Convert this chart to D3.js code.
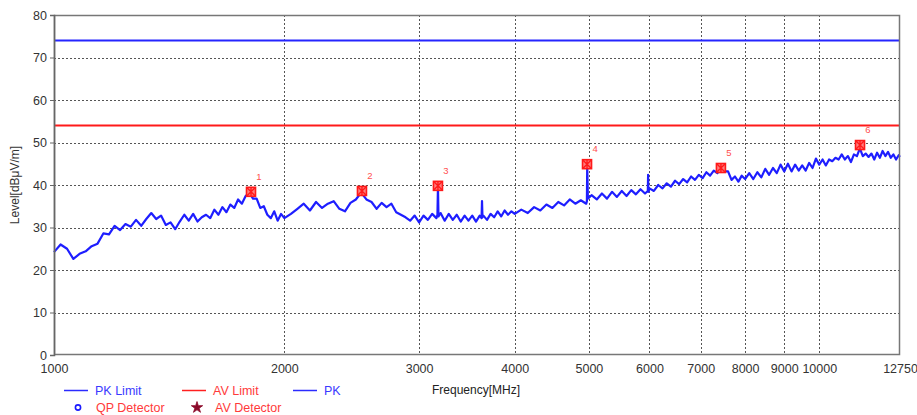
<!DOCTYPE html>
<html><head><meta charset="utf-8">
<script src="https://cdn.jsdelivr.net/npm/d3@7"></script>
<style>
html,body{margin:0;padding:0;background:#fff;}
svg{display:block;font-family:"Liberation Sans",Arial,sans-serif;}
</style></head>
<body>
<svg id="chart" width="917" height="415"></svg>
<script>
// ---- data ----
const xTickValues = [1000, 2000, 3000, 4000, 5000, 6000, 7000, 8000, 9000, 10000, 12750];
const yTickValues = [0, 10, 20, 30, 40, 50, 60, 70, 80];
const pkLimit = 74;
const avLimit = 54;
const pkFreq = [
 1000,1020,1040,1060,1080,1100,1120,1140,1160,1180,1200,1220,1240,1260,1280,1300,1320,1340,1360,1380,
 1400,1420,1440,1460,1480,1500,1520,1540,1560,1580,1600,1620,1640,1660,1680,1700,1720,1740,1760,1780,
 1800,1820,1840,1860,1880,1900,1920,1940,1960,1980,2000,
 2040,2080,2120,2160,2200,2240,2280,2320,2360,2400,2440,2480,2520,2560,2600,2640,2680,2720,2760,2800,
 2840,2880,2920,2960,3000,3040,3080,3120,3160,3170,3175,3180,3200,3240,3280,3320,3360,3400,3440,3480,
 3520,3560,3600,3620,3625,3630,3640,3680,3720,3760,3800,3840,3880,3920,3960,4000,
 4080,4160,4240,4320,4400,4480,4560,4640,4720,4800,4880,4960,4970,4975,4985,5040,5120,5200,5280,5360,
 5440,5520,5600,5680,5760,5840,5920,5970,5975,5980,6000,6080,6160,6240,6320,6400,6480,6560,6640,6720,
 6800,6880,6960,7040,7120,7200,7280,7360,7440,7520,7600,7680,7760,7840,7920,8000,
 8100,8200,8300,8400,8500,8600,8700,8800,8900,9000,9100,9200,9300,9400,9500,9600,9700,9800,9900,10000,
 10100,10200,10300,10400,10500,10600,10700,10800,10900,11000,11100,11200,11300,11400,11500,11600,11700,11800,11900,12000,
 12100,12200,12300,12400,12500,12600,12700,12750
];
const pkLevel = [
 24.2,26.0,25.0,22.6,23.8,24.4,25.6,26.2,28.6,28.4,30.4,29.4,30.8,30.2,31.8,30.4,32.0,33.4,32.0,32.8,
 30.6,31.2,29.6,31.4,33.0,31.6,33.2,31.4,32.4,33.0,32.2,34.2,33.0,34.8,33.6,35.4,34.6,36.6,35.6,37.4,
 38.2,36.8,36.8,34.6,35.0,33.0,32.2,33.8,31.6,33.2,32.2,
 33.2,34.4,35.6,34.0,36.0,34.6,35.6,36.2,34.4,33.8,35.8,36.6,38.2,36.6,36.0,34.4,35.8,34.8,35.6,33.6,
 33.0,32.4,31.6,32.8,31.2,32.8,31.8,33.2,32.2,33.0,39.6,32.6,33.4,31.6,33.2,31.8,33.0,31.4,32.8,31.6,
 32.8,31.4,32.8,32.2,36.2,32.4,32.8,31.8,33.2,32.4,33.8,32.6,34.0,33.0,33.8,33.2,
 34.2,33.4,34.8,34.0,35.4,34.6,36.0,35.2,36.6,35.6,36.4,35.6,36.2,44.6,36.8,37.6,36.6,38.0,36.8,38.4,
 37.2,38.6,37.4,38.8,37.8,39.0,38.0,38.6,42.4,38.4,39.2,38.6,40.0,39.2,40.4,39.6,41.0,40.2,41.4,40.6,
 42.0,41.2,42.4,41.6,43.0,42.2,43.4,42.8,44.0,43.2,43.2,41.2,42.0,40.8,42.2,41.4,
 42.8,41.4,43.0,41.8,43.8,42.4,44.0,42.8,44.8,43.2,45.0,43.2,44.8,43.4,44.6,43.4,45.2,44.0,46.2,44.8,
 46.0,44.6,46.0,45.6,46.4,46.0,47.2,46.0,46.8,45.4,47.2,46.8,48.6,46.8,47.4,46.6,47.4,46.0,47.6,46.4,
 48.0,46.8,47.8,46.4,47.2,46.0,47.0,46.6
];
const markerFreq = [1809, 2526, 3175, 4972, 7439, 11305];
const markerLevel = [38.4, 38.6, 39.8, 44.9, 44.0, 49.4];
const markerLabels = ["1", "2", "3", "4", "5", "6"];
const legendRow1 = [["PK Limit", "#2b2bff", "#3a3aff"], ["AV Limit", "#ff2020", "#ff3a3a"], ["PK", "#2b2bff", "#3a3aff"]];
const legendRow2 = [["QP Detector", "circle"], ["AV Detector", "star"]];

// ---- chart ----
const svg = d3.select("#chart");
const L = 54, R = 900, T = 15, B = 355;
const x = d3.scaleLog().domain([1000, 12750]).range([L, R]);
const y = d3.scaleLinear().domain([0, 80]).range([B, T]);

// grid
const grid = svg.append("g").attr("stroke", "#555").attr("stroke-width", 1).attr("stroke-dasharray", "2,2");
grid.selectAll("line.gy").data(yTickValues.filter(v => v > 0 && v < 80)).join("line")
  .attr("x1", L).attr("x2", R).attr("y1", d => Math.round(y(d)) + 0.5).attr("y2", d => Math.round(y(d)) + 0.5);
grid.selectAll("line.gx").data(xTickValues.filter(v => v > 1000 && v < 12750)).join("line")
  .attr("y1", T).attr("y2", B).attr("x1", d => Math.round(x(d)) + 0.5).attr("x2", d => Math.round(x(d)) + 0.5);

// limits
svg.append("line").attr("x1", L).attr("x2", R).attr("y1", y(pkLimit)).attr("y2", y(pkLimit))
  .attr("stroke", "#2525ff").attr("stroke-width", 2);
svg.append("line").attr("x1", L).attr("x2", R).attr("y1", y(avLimit)).attr("y2", y(avLimit))
  .attr("stroke", "#ff1a1a").attr("stroke-width", 2);

// trace
const pts = pkFreq.map((f, i) => [f, pkLevel[i]]);
svg.append("path").datum(pts)
  .attr("fill", "none").attr("stroke", "#1e1eff").attr("stroke-width", 2.2).attr("stroke-linejoin", "round")
  .attr("d", d3.line().x(d => x(d[0])).y(d => y(d[1])));

// frame
svg.append("rect").attr("x", L + 0.5).attr("y", T + 0.5).attr("width", R - L - 1).attr("height", B - T - 1)
  .attr("fill", "none").attr("stroke", "#777").attr("stroke-width", 1.5);

// axes
const yAxis = svg.append("g").attr("transform", `translate(${L},0)`)
  .call(d3.axisLeft(y).tickValues(yTickValues).tickSize(4).tickPadding(3).tickFormat(d3.format("d")));
yAxis.select(".domain").attr("stroke", "#666").attr("stroke-width", 1.5);
yAxis.selectAll(".tick line").attr("stroke", "#666");
yAxis.selectAll("text").attr("font-size", 12.5).attr("fill", "#333").attr("font-family", "Liberation Sans, Arial, sans-serif");

const xAxis = svg.append("g").attr("transform", `translate(0,${B})`)
  .call(d3.axisBottom(x).tickValues(xTickValues).tickSize(0).tickPadding(9).tickFormat(d3.format("d")));
xAxis.select(".domain").remove();
xAxis.selectAll("text").attr("font-size", 12.5).attr("fill", "#333").attr("font-family", "Liberation Sans, Arial, sans-serif");

// axis titles
svg.append("text").attr("x", 476).attr("y", 394).attr("text-anchor", "middle")
  .attr("font-size", 12).attr("fill", "#222").text("Frequency[MHz]");
svg.append("text").attr("transform", `translate(19,185) rotate(-90)`).attr("text-anchor", "middle")
  .attr("font-size", 12).attr("fill", "#333").text("Level[dBμV/m]");

// markers
const mk = svg.append("g");
markerFreq.forEach((f, i) => {
  const cx = x(f), cy = y(markerLevel[i]);
  const g = mk.append("g").attr("transform", `translate(${cx},${cy})`);
  g.append("rect").attr("x", -4.5).attr("y", -4.5).attr("width", 9).attr("height", 9)
    .attr("fill", "#ff8080").attr("stroke", "#ff1a1a").attr("stroke-width", 1.6);
  g.append("path").attr("d", "M-4,-4L4,4M4,-4L-4,4M0,-4.5V4.5").attr("stroke", "#ff1a1a").attr("stroke-width", 1.4);
  mk.append("text").attr("x", cx + 8).attr("y", cy - 12).attr("font-size", 9.5).attr("fill", "#ff5050")
    .attr("text-anchor", "middle").text(markerLabels[i]);
});

// legend
const legX1 = [64, 182, 293];
legendRow1.forEach((d, i) => {
  svg.append("line").attr("x1", legX1[i]).attr("x2", legX1[i] + 24).attr("y1", 390.5).attr("y2", 390.5)
    .attr("stroke", d[1]).attr("stroke-width", 1.5);
  svg.append("text").attr("x", legX1[i] + 31).attr("y", 395).attr("font-size", 12.5).attr("fill", d[2]).text(d[0]);
});
const legX2 = [78, 197];
legendRow2.forEach((d, i) => {
  if (d[1] === "circle") {
    svg.append("circle").attr("cx", legX2[i]).attr("cy", 407.5).attr("r", 2.6)
      .attr("fill", "none").attr("stroke", "#1a1aff").attr("stroke-width", 1.6);
  } else {
    svg.append("path").attr("transform", `translate(${legX2[i]},407.5)`)
      .attr("d", d3.symbol().type(d3.symbolStar).size(40)())
      .attr("fill", "#8b0a2a").attr("stroke", "#8b0a2a").attr("stroke-width", 0.8);
  }
  svg.append("text").attr("x", legX2[i] + 18).attr("y", 412).attr("font-size", 12.5).attr("fill", "#ff3a3a").text(d[0]);
});
</script>
</body></html>
